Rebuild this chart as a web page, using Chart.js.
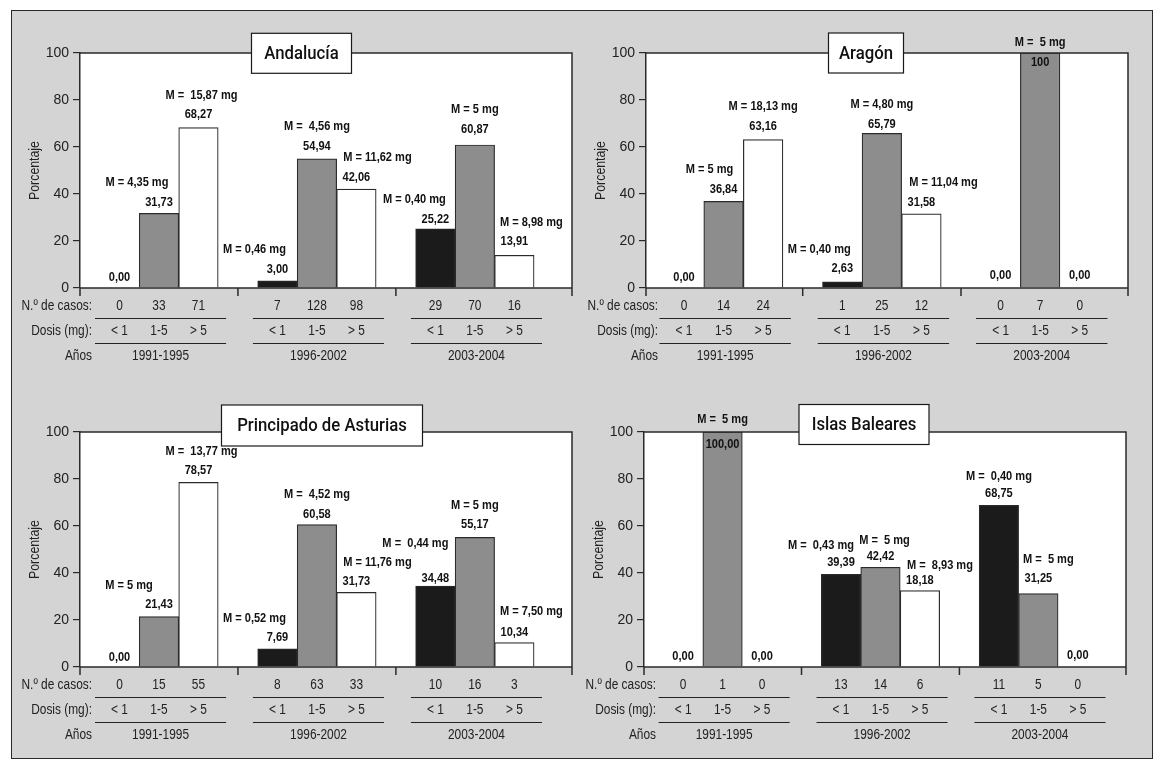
<!DOCTYPE html>
<html>
<head>
<meta charset="utf-8">
<script src="https://cdn.jsdelivr.net/npm/chart.js@4.4.1/dist/chart.umd.min.js"></script>
<style>
  html, body { margin: 0; padding: 0; background: #ffffff; width: 1165px; height: 765px; overflow: hidden; }
  #frame { position: absolute; left: 11px; top: 10px; width: 1142px; height: 749px; box-sizing: border-box;
           border: 1.5px solid #2a2a2a; background: #d4d4d4; }
  canvas { position: absolute; }
</style>
</head>
<body>
<div id="frame"></div>
<canvas id="c0"></canvas>
<canvas id="c1"></canvas>
<canvas id="c2"></canvas>
<canvas id="c3"></canvas>
<script>
// ---------------- shared categories / tick labels ----------------
const periods = ['1991-1995', '1996-2002', '2003-2004'];
const doseClasses = ['< 1', '1-5', '> 5'];
const rowTitles = ['N.º de casos:', 'Dosis (mg):', 'Años'];
const yTickValues = [0, 20, 40, 60, 80, 100];
const yAxisTitle = 'Porcentaje';

// ---------------- Andalucía ----------------
const andaluciaLt1 = [0.00, 3.00, 25.22];
const andalucia1a5 = [31.73, 54.94, 60.87];
const andaluciaGt5 = [68.27, 42.06, 13.91];
const andaluciaLblLt1 = ['0,00', '3,00', '25,22'];
const andaluciaLbl1a5 = ['31,73', '54,94', '60,87'];
const andaluciaLblGt5 = ['68,27', '42,06', '13,91'];
const andaluciaMLt1 = [null, 'M = 0,46 mg', 'M = 0,40 mg'];
const andaluciaM1a5 = ['M = 4,35 mg', 'M =  4,56 mg', 'M = 5 mg'];
const andaluciaMGt5 = ['M =  15,87 mg', 'M = 11,62 mg', 'M = 8,98 mg'];
const andaluciaCasosLt1 = [0, 7, 29];
const andaluciaCasos1a5 = [33, 128, 70];
const andaluciaCasosGt5 = [71, 98, 16];

// ---------------- Aragón ----------------
const aragonLt1 = [0.00, 2.63, 0.00];
const aragon1a5 = [36.84, 65.79, 100];
const aragonGt5 = [63.16, 31.58, 0.00];
const aragonLblLt1 = ['0,00', '2,63', '0,00'];
const aragonLbl1a5 = ['36,84', '65,79', '100'];
const aragonLblGt5 = ['63,16', '31,58', '0,00'];
const aragonMLt1 = [null, 'M = 0,40 mg', null];
const aragonM1a5 = ['M = 5 mg', 'M = 4,80 mg', 'M =  5 mg'];
const aragonMGt5 = ['M = 18,13 mg', 'M = 11,04 mg', null];
const aragonCasosLt1 = [0, 1, 0];
const aragonCasos1a5 = [14, 25, 7];
const aragonCasosGt5 = [24, 12, 0];

// ---------------- Principado de Asturias ----------------
const asturiasLt1 = [0.00, 7.69, 34.48];
const asturias1a5 = [21.43, 60.58, 55.17];
const asturiasGt5 = [78.57, 31.73, 10.34];
const asturiasLblLt1 = ['0,00', '7,69', '34,48'];
const asturiasLbl1a5 = ['21,43', '60,58', '55,17'];
const asturiasLblGt5 = ['78,57', '31,73', '10,34'];
const asturiasMLt1 = [null, 'M = 0,52 mg', 'M =  0,44 mg'];
const asturiasM1a5 = ['M = 5 mg', 'M =  4,52 mg', 'M = 5 mg'];
const asturiasMGt5 = ['M =  13,77 mg', 'M = 11,76 mg', 'M = 7,50 mg'];
const asturiasCasosLt1 = [0, 8, 10];
const asturiasCasos1a5 = [15, 63, 16];
const asturiasCasosGt5 = [55, 33, 3];

// ---------------- Islas Baleares ----------------
const balearesLt1 = [0.00, 39.39, 68.75];
const baleares1a5 = [100, 42.42, 31.25];
const balearesGt5 = [0.00, 32.5, 0.00];   // bar drawn at ~32.5 in the figure, labelled 18,18
const balearesLblLt1 = ['0,00', '39,39', '68,75'];
const balearesLbl1a5 = ['100,00', '42,42', '31,25'];
const balearesLblGt5 = ['0,00', '18,18', '0,00'];
const balearesMLt1 = [null, 'M =  0,43 mg', 'M =  0,40 mg'];
const balearesM1a5 = ['M =  5 mg', 'M =  5 mg', 'M =  5 mg'];
const balearesMGt5 = [null, 'M =  8,93 mg', null];
const balearesCasosLt1 = [0, 13, 11];
const balearesCasos1a5 = [1, 14, 5];
const balearesCasosGt5 = [0, 6, 0];

// ---------------- styles / layout ----------------
const F_SANS = "'Liberation Sans', Arial, sans-serif";
const F_TITLE = "Roboto, 'Liberation Sans', sans-serif";
const NARROW = 0.85;   // horizontal compression to imitate the condensed face
const seriesColors = ['#1b1b1b', '#8d8d8d', '#ffffff'];
const INK = '#222222';

const panels = [
  { id: 'c0', name: 'Andalucía',
    series: [andaluciaLt1, andalucia1a5, andaluciaGt5],
    labels: [andaluciaLblLt1, andaluciaLbl1a5, andaluciaLblGt5],
    mlabels: [andaluciaMLt1, andaluciaM1a5, andaluciaMGt5],
    casos: [andaluciaCasosLt1, andaluciaCasos1a5, andaluciaCasosGt5],
    region: { x: 12, y: 11, w: 570, h: 374 }, plot: { l: 80, t: 53, r: 572, b: 288 }, xRange: [-1.0, 11.46],
    title: { cx: 301.5, cy: 53.3, w: 100, h: 40 },
    mDx: [[0, -23, -21], [-22, 0, 0], [3, 21, 17]],
    mDy: [[0, -32, -29], [-31, -32, -36], [-32, -32, -33]],
    vDy: [[-11, -12, -9], [-11, -12, -16], [-13, -12, -14]] },
  { id: 'c1', name: 'Aragón',
    series: [aragonLt1, aragon1a5, aragonGt5],
    labels: [aragonLblLt1, aragonLbl1a5, aragonLblGt5],
    mlabels: [aragonMLt1, aragonM1a5, aragonMGt5],
    casos: [aragonCasosLt1, aragonCasos1a5, aragonCasosGt5],
    region: { x: 582, y: 11, w: 570, h: 374 }, plot: { l: 646, t: 53, r: 1128, b: 288 }, xRange: [-0.96, 11.22],
    title: { cx: 866, cy: 53, w: 75, h: 40 },
    mDx: [[0, -23, 0], [-14, 0, 0], [0, 22, 0]],
    mDy: [[0, -32, 0], [-32, -29, -11], [-33, -31, 0]],
    vDy: [[-11, -13, -13], [-12, -9, 9], [-13, -11, -13]] },
  { id: 'c2', name: 'Principado de Asturias',
    series: [asturiasLt1, asturias1a5, asturiasGt5],
    labels: [asturiasLblLt1, asturiasLbl1a5, asturiasLblGt5],
    mlabels: [asturiasMLt1, asturiasM1a5, asturiasMGt5],
    casos: [asturiasCasosLt1, asturiasCasos1a5, asturiasCasosGt5],
    region: { x: 12, y: 385, w: 570, h: 372 }, plot: { l: 80, t: 432, r: 572, b: 667 }, xRange: [-1.0, 11.46],
    title: { cx: 322, cy: 425.5, w: 201, h: 41 },
    mDx: [[0, -23, -20], [-30, 0, 0], [3, 21, 17]],
    mDy: [[0, -31, -43], [-31, -30, -32], [-31, -30, -31]],
    vDy: [[-10, -12, -8], [-12, -10, -13], [-12, -11, -10]] },
  { id: 'c3', name: 'Islas Baleares',
    series: [balearesLt1, baleares1a5, balearesGt5],
    labels: [balearesLblLt1, balearesLbl1a5, balearesLblGt5],
    mlabels: [balearesMLt1, balearesM1a5, balearesMGt5],
    casos: [balearesCasosLt1, balearesCasos1a5, balearesCasosGt5],
    region: { x: 582, y: 385, w: 570, h: 372 }, plot: { l: 644, t: 432, r: 1126, b: 667 }, xRange: [-0.99, 11.22],
    title: { cx: 864, cy: 424.5, w: 130, h: 40 },
    mDx: [[0, -20, 0], [0, 4, 10], [0, 20, 0]],
    mDy: [[0, -29, -29], [-13, -27, -34], [0, -25, 0]],
    vDy: [[-11, -12, -12], [12, -11, -15], [-11, -10, -12]] }
];

const SLOTS = doseClasses.length + 1; // 3 bars + 1 gap per period

function narrowText(ctx, text, x, y, k) {
  ctx.save();
  ctx.translate(x, y);
  ctx.scale(k, 1);
  ctx.fillText(text, 0, 0);
  ctx.restore();
}

const decor = {
  id: 'decor',
  beforeDraw(chart) {
    const { ctx, chartArea: a } = chart;
    ctx.save();
    ctx.fillStyle = '#ffffff';
    ctx.fillRect(a.left, a.top, a.right - a.left, a.bottom - a.top);
    ctx.restore();
  },
  afterDraw(chart, args, opts) {
    const P = opts.panel;
    const R = P.region;
    const { ctx, chartArea: a } = chart;
    const xs = chart.scales.x, ys = chart.scales.y;
    ctx.save();
    // plot frame (top, right) + baseline + downward ticks
    ctx.strokeStyle = '#2a2a2a';
    ctx.lineWidth = 1.5;
    ctx.beginPath();
    ctx.moveTo(a.left, a.top); ctx.lineTo(a.right, a.top); ctx.lineTo(a.right, a.bottom + 8);
    ctx.moveTo(a.left, a.bottom); ctx.lineTo(a.right, a.bottom);
    ctx.moveTo(a.left, a.bottom); ctx.lineTo(a.left, a.bottom + 8);
    for (let g = 0; g < periods.length - 1; g++) {
      const px = xs.getPixelForValue(g * SLOTS + doseClasses.length);
      ctx.moveTo(px, a.bottom); ctx.lineTo(px, a.bottom + 8);
    }
    ctx.stroke();

    // value + mean-dose labels
    ctx.textAlign = 'center';
    ctx.textBaseline = 'middle';
    ctx.fillStyle = '#111111';
    ctx.font = "bold 13px " + F_SANS;
    P.series.forEach((vals, s) => {
      vals.forEach((v, g) => {
        const px = xs.getPixelForValue(g * SLOTS + s);
        const py = ys.getPixelForValue(v);
        narrowText(ctx, P.labels[s][g], px, py + P.vDy[s][g], NARROW);
        const m = P.mlabels[s][g];
        if (m) narrowText(ctx, m, px + P.mDx[s][g], py + P.mDy[s][g], NARROW);
      });
    });

    // table under the axis
    ctx.fillStyle = INK;
    ctx.font = "14px " + F_SANS;
    const rowY = [a.bottom + 18.5, a.bottom + 43.5, a.bottom + 68.5];
    const lineY = [a.bottom + 30.5, a.bottom + 55.5];
    ctx.textAlign = 'right';
    rowTitles.forEach((t, i) => narrowText(ctx, t, a.left + 12, rowY[i], NARROW));
    ctx.textAlign = 'center';
    for (let g = 0; g < periods.length; g++) {
      for (let s = 0; s < doseClasses.length; s++) {
        const px = xs.getPixelForValue(g * SLOTS + s);
        narrowText(ctx, String(P.casos[s][g]), px, rowY[0], NARROW);
        narrowText(ctx, doseClasses[s], px, rowY[1], NARROW);
      }
      const x0 = xs.getPixelForValue(g * SLOTS - 0.62);
      const x1 = xs.getPixelForValue(g * SLOTS + 2.7);
      narrowText(ctx, periods[g], (x0 + x1) / 2, rowY[2], NARROW);
      ctx.strokeStyle = '#222';
      ctx.lineWidth = 1.2;
      ctx.beginPath();
      lineY.forEach(ly => { ctx.moveTo(x0, ly); ctx.lineTo(x1, ly); });
      ctx.stroke();
    }

    // y axis title
    ctx.save();
    ctx.translate(a.left - 45, (a.top + a.bottom) / 2);
    ctx.rotate(-Math.PI / 2);
    ctx.font = "14px " + F_SANS;
    narrowText(ctx, yAxisTitle, 0, 0, 0.88);
    ctx.restore();

    // title box
    const T = P.title;
    const bx = T.cx - R.x - T.w / 2, by = T.cy - R.y - T.h / 2;
    ctx.fillStyle = '#ffffff';
    ctx.fillRect(bx, by, T.w, T.h);
    ctx.strokeStyle = '#1a1a1a';
    ctx.lineWidth = 1.2;
    ctx.strokeRect(bx, by, T.w, T.h);
    ctx.fillStyle = '#111';
    ctx.font = "500 18px " + F_TITLE;
    ctx.textAlign = 'center';
    ctx.textBaseline = 'middle';
    narrowText(ctx, P.name, T.cx - R.x, T.cy - R.y + 1, 0.93);
    ctx.restore();
  }
};

function buildPanel(P) {
  const cv = document.getElementById(P.id);
  const R = P.region;
  cv.width = R.w; cv.height = R.h;
  cv.style.left = R.x + 'px'; cv.style.top = R.y + 'px';
  cv.style.width = R.w + 'px'; cv.style.height = R.h + 'px';
  const datasets = P.series.map((vals, s) => ({
    label: doseClasses[s],
    data: vals.map((v, g) => ({ x: g * SLOTS + s, y: v })),
    backgroundColor: seriesColors[s],
    borderColor: '#2b2b2b',
    borderWidth: 1.2,
    grouped: false,
    barPercentage: 1,
    categoryPercentage: 1
  }));
  new Chart(cv, {
    type: 'bar',
    data: { datasets },
    options: {
      responsive: false,
      animation: false,
      layout: { padding: { left: 0, top: P.plot.t - R.y, right: R.x + R.w - P.plot.r, bottom: R.y + R.h - P.plot.b } },
      plugins: { legend: { display: false }, tooltip: { enabled: false }, decor: { panel: P } },
      scales: {
        x: { type: 'linear', min: P.xRange[0], max: P.xRange[1], display: false, offset: false,
             grid: { offset: false },
             ticks: { stepSize: 1, includeBounds: false } },
        y: { min: 0, max: 100,
             afterFit(s) { s.width = P.plot.l - R.x; },
             afterBuildTicks(s) { s.ticks = yTickValues.map(v => ({ value: v })); },
             ticks: { color: INK, padding: 4, font: { family: F_SANS, size: 14 } },
             grid: { drawOnChartArea: false, drawTicks: true, tickLength: 7, color: '#2a2a2a', lineWidth: 1.2 },
             border: { display: true, color: '#2a2a2a', width: 1.5 } }
      }
    },
    plugins: [decor]
  });
}

panels.forEach(buildPanel);
</script>
</body>
</html>
